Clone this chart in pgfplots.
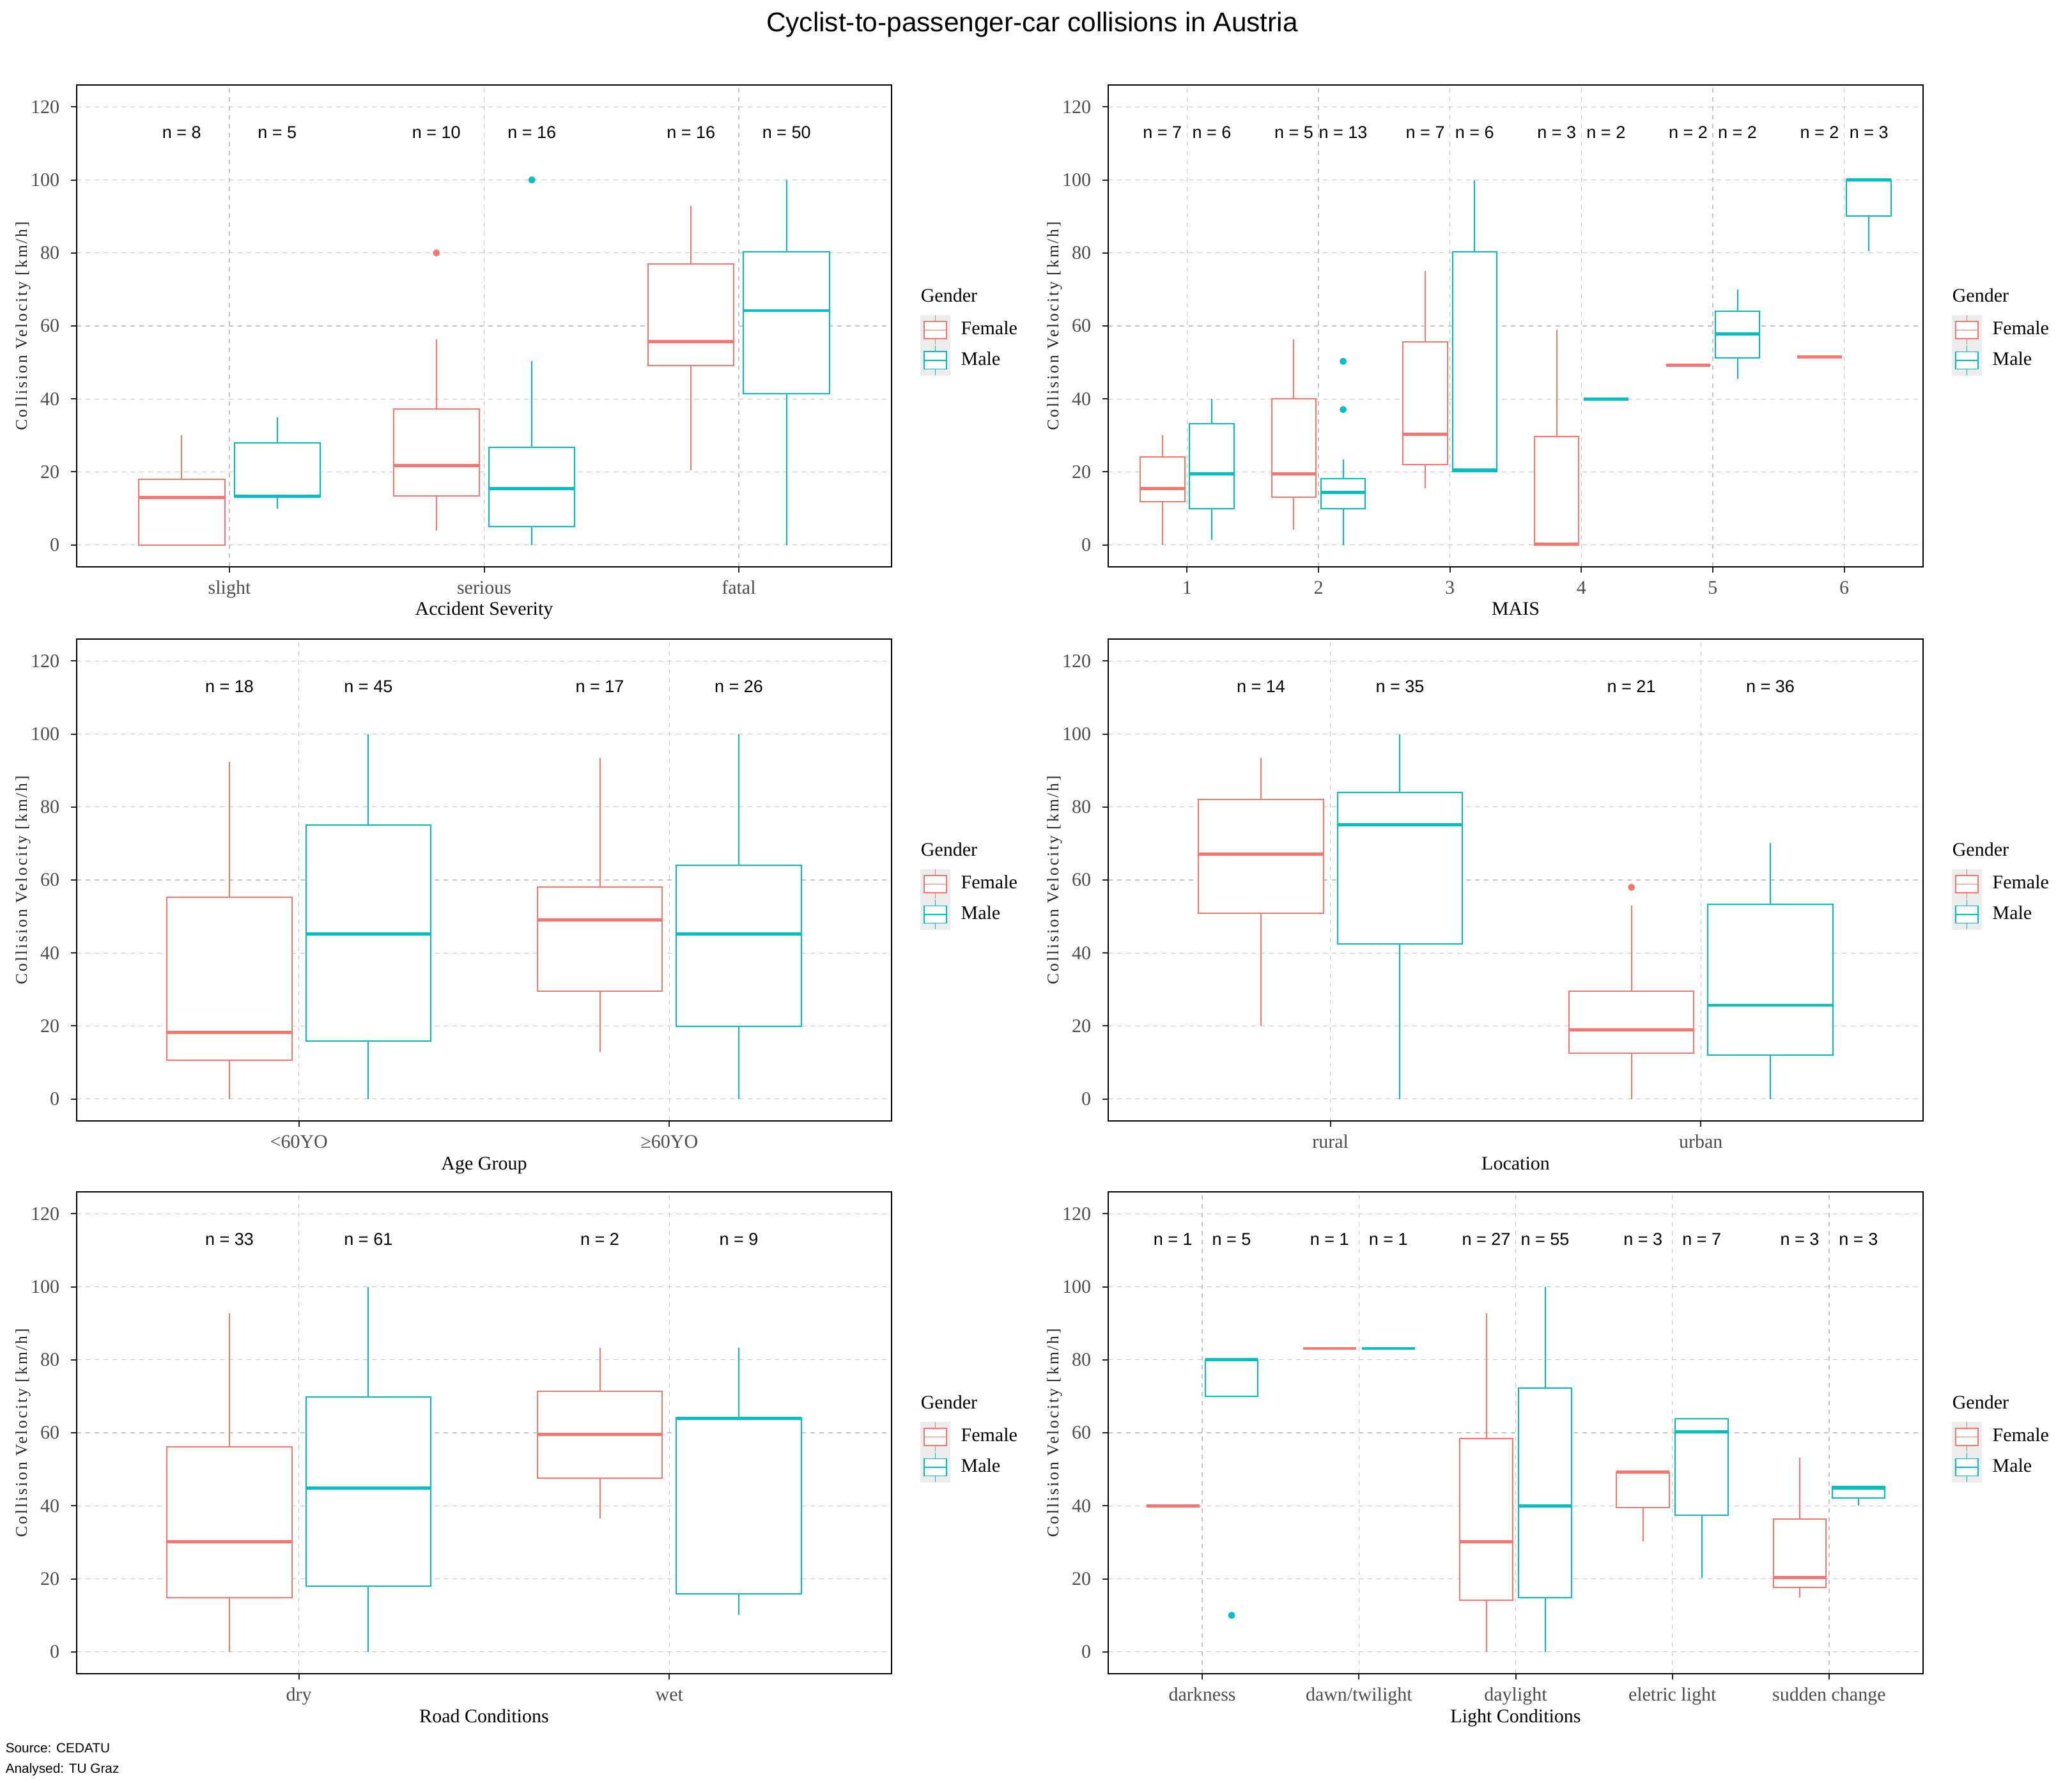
\documentclass[border=0pt]{standalone}
\usepackage{fontspec}
\setmainfont{Liberation Serif}
\newfontfamily\sansf{Liberation Sans}
\newfontfamily\ylabf[LetterSpace=11.5]{Liberation Serif}
\usepackage{pgfplots}
\pgfplotsset{compat=1.18}
\usepgfplotslibrary{statistics}
\definecolor{fcol}{HTML}{F8766D}
\definecolor{mcol}{HTML}{00BFC4}
\definecolor{tickgray}{HTML}{4D4D4D}
\definecolor{gridgray}{HTML}{C4C4C4}
\newcommand\tickfont{\fontsize{7.5}{9}\selectfont}
\newcommand\labfont{\fontsize{7.5}{9}\selectfont}
\newcommand\legfont{\fontsize{7.5}{9}\selectfont}
\newcommand\ylabfont{\ylabf\fontsize{6.4}{7.7}\selectfont}
\newcommand\nfont{\sansf\fontsize{6.75}{8}\selectfont}
\newcommand\legkey[1]{%
  \fill[black!7] (0pt,-5.75pt) rectangle (11.25pt,5.75pt);
  \draw[#1,line width=0.4pt] (5.625pt,-5.75pt)--(5.625pt,5.75pt);
  \draw[#1,line width=0.4pt,fill=white] (1.25pt,-3.4pt) rectangle (10pt,3.4pt);
  \draw[#1,line width=0.4pt] (1.25pt,0pt)--(10pt,0pt);}
\newcommand\bx[7]{\addplot[#1, boxplot prepared={draw direction=y, draw position=#2, lower whisker=#3, lower quartile=#4, median=#5, upper quartile=#6, upper whisker=#7}] coordinates {};}
\pgfplotsset{
  fem/.style={draw=fcol, line width=0.5pt, mark=*, mark size=1.1pt, mark options={solid, fill=fcol, draw=fcol}, forget plot},
  mal/.style={draw=mcol, line width=0.5pt, mark=*, mark size=1.1pt, mark options={solid, fill=mcol, draw=mcol}, forget plot},
  boxplot/draw direction=y,
  boxplot/box extend=0.3375,
  boxplot/whisker extend=0,
  boxplot/every box/.style={fill=white},
  boxplot/every median/.style={line width=1.2pt},
  panel/.style={
    scale only axis, width=318.75pt, height=188.5pt, anchor=north west,
    ymin=-6, ymax=126, ytick={0,20,...,120},
    grid=major, major grid style={gridgray, line width=0.35pt, dash pattern=on 1.75pt off 1.75pt},
    axis line style={black, line width=0.7pt},
    tick align=outside, major tick length=2.25pt,
    tick style={black!85, line width=0.5pt},
    xtick pos=left, ytick pos=left,
    /pgf/number format/assume math mode=true,
    tick label style={font=\tickfont, text=tickgray},
    yticklabel style={anchor=east, inner sep=0pt, xshift=-4.25pt},
    xticklabel style={anchor=base, inner sep=0pt, yshift=-8.4pt},
    xlabel style={at={(axis description cs:0.5,0)}, anchor=base, yshift=-19pt, font=\labfont, text=black, inner sep=0pt},
    ylabel style={at={(axis description cs:-0.0659,0.5)}, anchor=center, font=\ylabfont, text=black!85, inner sep=0pt},
    ylabel={Collision Velocity [km/h]},
    clip=false,
    legend style={at={(axis description cs:1.0353,0.5232)}, anchor=north west, draw=none, fill=none, inner sep=0pt, outer sep=0pt, row sep=0pt, nodes={inner sep=0pt, font=\legfont, text=black}, /tikz/every odd column/.style={column sep=4.25pt}},
    legend cell align=left,
  },
}
\newcommand\legendstuff{%
  \addlegendimage{legend image code/.code={\legkey{fcol}}}\addlegendentry{Female}
  \addlegendimage{legend image code/.code={\legkey{mcol}}}\addlegendentry{Male}
  \node[anchor=west, font=\legfont, inner sep=0pt] at (axis description cs:1.0353,0.5637) {Gender};}
\begin{document}
\begin{tikzpicture}
\path[use as bounding box] (0pt,0pt) rectangle (810.5pt,-697.5pt);
\node[anchor=base, font=\sansf\fontsize{10.6}{12}\selectfont, inner sep=0pt] at (403.75pt,-12.5pt) {Cyclist-to-passenger-car collisions in Austria};
\node[anchor=base west, font=\sansf\fontsize{5.2}{6}\selectfont, inner sep=0pt] at (2pt,-685.5pt) {Source: CEDATU};
\node[anchor=base west, font=\sansf\fontsize{5.2}{6}\selectfont, inner sep=0pt] at (2pt,-693.5pt) {Analysed: TU Graz};

% ---------- Panel 1: Accident Severity
\begin{axis}[panel, at={(30pt,-33.25pt)}, xmin=0.4, xmax=3.6, xtick={1,2,3}, xticklabels={slight,serious,fatal}, xlabel={Accident Severity}]
\legendstuff
\bx{fem}{0.8125}{0}{0}{13}{18}{30}
\bx{mal}{1.1875}{10}{13}{13.3}{28}{35}
\addplot[fem, boxplot prepared={draw direction=y, draw position=1.8125, lower whisker=4, lower quartile=13.5, median=21.8, upper quartile=37.2, upper whisker=56.3}] table[row sep=\\, y index=0, header=false] {80\\};
\addplot[mal, boxplot prepared={draw direction=y, draw position=2.1875, lower whisker=0, lower quartile=5, median=15.5, upper quartile=26.7, upper whisker=50.3}] table[row sep=\\, y index=0, header=false] {100\\};
\bx{fem}{2.8125}{20.5}{49.2}{55.7}{77}{92.9}
\bx{mal}{3.1875}{0}{41.4}{64.2}{80.3}{100}
\node[font=\nfont] at (axis cs:0.8125,113) {n = 8};
\node[font=\nfont] at (axis cs:1.1875,113) {n = 5};
\node[font=\nfont] at (axis cs:1.8125,113) {n = 10};
\node[font=\nfont] at (axis cs:2.1875,113) {n = 16};
\node[font=\nfont] at (axis cs:2.8125,113) {n = 16};
\node[font=\nfont] at (axis cs:3.1875,113) {n = 50};
\end{axis}

% ---------- Panel 2: MAIS
\begin{axis}[panel, at={(433.5pt,-33.25pt)}, xmin=0.4, xmax=6.6, xtick={1,2,3,4,5,6}, xticklabels={1,2,3,4,5,6}, xlabel={MAIS}]
\legendstuff
\bx{fem}{0.8125}{0}{11.8}{15.5}{24.1}{30.1}
\bx{mal}{1.1875}{1.3}{10}{19.5}{33.2}{40.1}
\bx{fem}{1.8125}{4.1}{13}{19.5}{40.1}{56.3}
\addplot[mal, boxplot prepared={draw direction=y, draw position=2.1875, lower whisker=0, lower quartile=10, median=14.4, upper quartile=18.1, upper whisker=23.4}] table[row sep=\\, y index=0, header=false] {50.3\\37.1\\};
\bx{fem}{2.8125}{15.5}{22}{30.3}{55.6}{75}
\bx{mal}{3.1875}{20}{20}{20.5}{80.3}{100}
\bx{fem}{3.8125}{0}{0}{0.3}{29.7}{59}
\bx{mal}{4.1875}{40}{40}{40}{40}{40}
\bx{fem}{4.8125}{49.3}{49.3}{49.3}{49.3}{49.3}
\bx{mal}{5.1875}{45.5}{51.3}{57.8}{64}{70}
\bx{fem}{5.8125}{51.5}{51.5}{51.5}{51.5}{51.5}
\bx{mal}{6.1875}{80.4}{90.1}{100}{100}{100}
\node[font=\nfont] at (axis cs:0.8125,113) {n = 7};
\node[font=\nfont] at (axis cs:1.1875,113) {n = 6};
\node[font=\nfont] at (axis cs:1.8125,113) {n = 5};
\node[font=\nfont] at (axis cs:2.1875,113) {n = 13};
\node[font=\nfont] at (axis cs:2.8125,113) {n = 7};
\node[font=\nfont] at (axis cs:3.1875,113) {n = 6};
\node[font=\nfont] at (axis cs:3.8125,113) {n = 3};
\node[font=\nfont] at (axis cs:4.1875,113) {n = 2};
\node[font=\nfont] at (axis cs:4.8125,113) {n = 2};
\node[font=\nfont] at (axis cs:5.1875,113) {n = 2};
\node[font=\nfont] at (axis cs:5.8125,113) {n = 2};
\node[font=\nfont] at (axis cs:6.1875,113) {n = 3};
\end{axis}

% ---------- Panel 3: Age Group
\begin{axis}[panel, at={(30pt,-250pt)}, xmin=0.4, xmax=2.6, xtick={1,2}, xticklabels={<60YO,≥60YO}, xlabel={Age Group}]
\legendstuff
\bx{fem}{0.8125}{0}{10.6}{18.2}{55.3}{92.4}
\bx{mal}{1.1875}{0}{15.9}{45.2}{75}{100}
\bx{fem}{1.8125}{12.9}{29.6}{49.1}{58}{93.4}
\bx{mal}{2.1875}{0}{19.9}{45.2}{64.1}{100}
\node[font=\nfont] at (axis cs:0.8125,113) {n = 18};
\node[font=\nfont] at (axis cs:1.1875,113) {n = 45};
\node[font=\nfont] at (axis cs:1.8125,113) {n = 17};
\node[font=\nfont] at (axis cs:2.1875,113) {n = 26};
\end{axis}

% ---------- Panel 4: Location
\begin{axis}[panel, at={(433.5pt,-250pt)}, xmin=0.4, xmax=2.6, xtick={1,2}, xticklabels={rural,urban}, xlabel={Location}]
\legendstuff
\bx{fem}{0.8125}{20.1}{50.9}{67.1}{82.1}{93.4}
\bx{mal}{1.1875}{0}{42.5}{75.2}{84}{100}
\addplot[fem, boxplot prepared={draw direction=y, draw position=1.8125, lower whisker=0, lower quartile=12.6, median=18.9, upper quartile=29.6, upper whisker=53}] table[row sep=\\, y index=0, header=false] {58\\};
\bx{mal}{2.1875}{0}{12}{25.7}{53.4}{70.2}
\node[font=\nfont] at (axis cs:0.8125,113) {n = 14};
\node[font=\nfont] at (axis cs:1.1875,113) {n = 35};
\node[font=\nfont] at (axis cs:1.8125,113) {n = 21};
\node[font=\nfont] at (axis cs:2.1875,113) {n = 36};
\end{axis}

% ---------- Panel 5: Road Conditions
\begin{axis}[panel, at={(30pt,-466.25pt)}, xmin=0.4, xmax=2.6, xtick={1,2}, xticklabels={dry,wet}, xlabel={Road Conditions}]
\legendstuff
\bx{fem}{0.8125}{0}{14.8}{30.2}{56.2}{92.8}
\bx{mal}{1.1875}{0}{18}{44.9}{69.8}{100}
\bx{fem}{1.8125}{36.5}{47.6}{59.5}{71.4}{83.3}
\bx{mal}{2.1875}{10.1}{15.9}{64}{64.1}{83.3}
\node[font=\nfont] at (axis cs:0.8125,113) {n = 33};
\node[font=\nfont] at (axis cs:1.1875,113) {n = 61};
\node[font=\nfont] at (axis cs:1.8125,113) {n = 2};
\node[font=\nfont] at (axis cs:2.1875,113) {n = 9};
\end{axis}

% ---------- Panel 6: Light Conditions
\begin{axis}[panel, at={(433.5pt,-466.25pt)}, xmin=0.4, xmax=5.6, xtick={1,2,3,4,5}, xticklabels={darkness,dawn/twilight,daylight,eletric light,sudden change}, xlabel={Light Conditions}]
\legendstuff
\bx{fem}{0.8125}{40}{40}{40}{40}{40}
\addplot[mal, boxplot prepared={draw direction=y, draw position=1.1875, lower whisker=70, lower quartile=70, median=80, upper quartile=80, upper whisker=80}] table[row sep=\\, y index=0, header=false] {10\\};
\bx{fem}{1.8125}{83.1}{83.1}{83.1}{83.1}{83.1}
\bx{mal}{2.1875}{83.1}{83.1}{83.1}{83.1}{83.1}
\bx{fem}{2.8125}{0}{14.2}{30.2}{58.5}{92.8}
\bx{mal}{3.1875}{0}{14.8}{40}{72.2}{100}
\bx{fem}{3.8125}{30.3}{39.5}{49.2}{49.2}{49.2}
\bx{mal}{4.1875}{20.3}{37.5}{60.2}{63.8}{63.8}
\bx{fem}{4.8125}{14.9}{17.7}{20.3}{36.3}{53.1}
\bx{mal}{5.1875}{40.1}{42.2}{44.9}{45.3}{45.3}
\node[font=\nfont] at (axis cs:0.8125,113) {n = 1};
\node[font=\nfont] at (axis cs:1.1875,113) {n = 5};
\node[font=\nfont] at (axis cs:1.8125,113) {n = 1};
\node[font=\nfont] at (axis cs:2.1875,113) {n = 1};
\node[font=\nfont] at (axis cs:2.8125,113) {n = 27};
\node[font=\nfont] at (axis cs:3.1875,113) {n = 55};
\node[font=\nfont] at (axis cs:3.8125,113) {n = 3};
\node[font=\nfont] at (axis cs:4.1875,113) {n = 7};
\node[font=\nfont] at (axis cs:4.8125,113) {n = 3};
\node[font=\nfont] at (axis cs:5.1875,113) {n = 3};
\end{axis}
\end{tikzpicture}
\end{document}
